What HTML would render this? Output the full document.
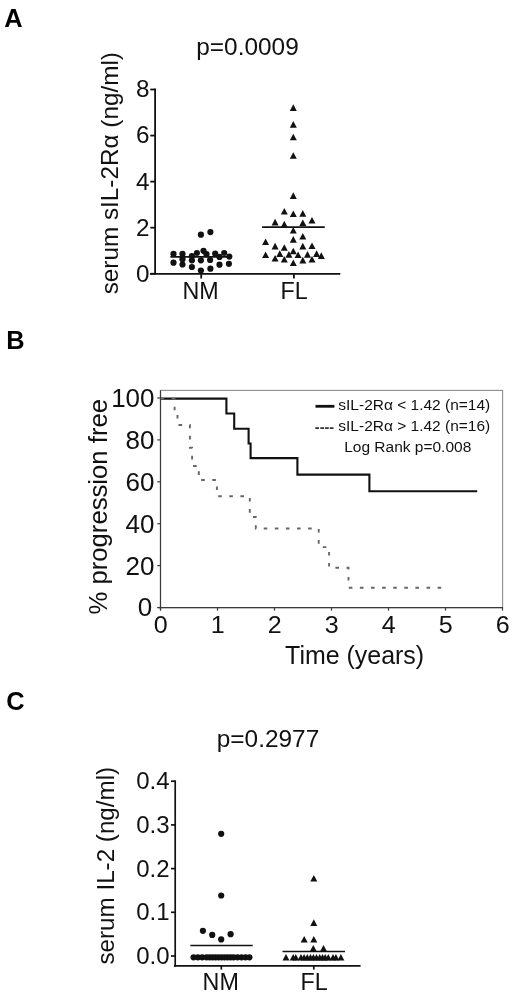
<!DOCTYPE html>
<html lang="en">
<head>
<meta charset="utf-8">
<title>Figure: serum sIL-2R&#945; and IL-2 in FL</title>
<style>
html,body{margin:0;padding:0;background:#fff;}
body{width:520px;height:1005px;overflow:hidden;}
svg{display:block;font-family:'Liberation Sans', sans-serif;}
</style>
</head>
<body>
<svg width="520" height="1005" viewBox="0 0 520 1005" style="font-family:'Liberation Sans', sans-serif">
<rect width="520" height="1005" fill="#fff"/>
<text transform="translate(4.20,26.50) scale(1.0000,1)" font-size="25.4" text-anchor="start" font-weight="bold" fill="#000">A</text>
<text transform="translate(6.30,349.40) scale(1.0000,1)" font-size="25.4" text-anchor="start" font-weight="bold" fill="#000">B</text>
<text transform="translate(6.30,710.20) scale(1.0000,1)" font-size="25.4" text-anchor="start" font-weight="bold" fill="#000">C</text>
<text transform="translate(247.50,55.20) scale(1.0300,1)" font-size="23.7" text-anchor="middle" font-weight="normal" fill="#111">p=0.0009</text>
<text transform="translate(117.60,173.20) rotate(-90) scale(1.0000,1)" font-size="24.3" text-anchor="middle" font-weight="normal" fill="#111">serum sIL-2R&#945; (ng/ml)</text>
<g stroke="#111" stroke-width="1.8" fill="none">
<path d="M155.1,88.4V274.6"/>
<path d="M150,273.8H340.3"/>
<path d="M150.3,273.75H155.1"/>
<path d="M150.3,227.69H155.1"/>
<path d="M150.3,181.63H155.1"/>
<path d="M150.3,135.57H155.1"/>
<path d="M150.3,89.51H155.1"/>
<path d="M201.2,273.8V278.5"/>
<path d="M293.9,273.8V278.5"/>
</g>
<text transform="translate(149.60,281.65) scale(1.0300,1)" font-size="23.6" text-anchor="end" font-weight="normal" fill="#111">0</text>
<text transform="translate(149.60,235.59) scale(1.0300,1)" font-size="23.6" text-anchor="end" font-weight="normal" fill="#111">2</text>
<text transform="translate(149.60,189.53) scale(1.0300,1)" font-size="23.6" text-anchor="end" font-weight="normal" fill="#111">4</text>
<text transform="translate(149.60,143.47) scale(1.0300,1)" font-size="23.6" text-anchor="end" font-weight="normal" fill="#111">6</text>
<text transform="translate(149.60,97.41) scale(1.0300,1)" font-size="23.6" text-anchor="end" font-weight="normal" fill="#111">8</text>
<text transform="translate(200.50,298.60) scale(1.0000,1)" font-size="23.3" text-anchor="middle" font-weight="normal" fill="#111">NM</text>
<text transform="translate(294.20,298.60) scale(1.0000,1)" font-size="23.3" text-anchor="middle" font-weight="normal" fill="#111">FL</text>
<g fill="#111">
<circle cx="200.90" cy="234.70" r="3.1"/>
<circle cx="210.40" cy="232.10" r="3.1"/>
<circle cx="173.50" cy="253.90" r="3.1"/>
<circle cx="182.50" cy="253.90" r="3.1"/>
<circle cx="196.90" cy="253.00" r="3.1"/>
<circle cx="203.50" cy="250.80" r="3.1"/>
<circle cx="206.50" cy="254.20" r="3.1"/>
<circle cx="215.20" cy="253.70" r="3.1"/>
<circle cx="224.20" cy="253.00" r="3.1"/>
<circle cx="229.30" cy="256.60" r="3.1"/>
<circle cx="191.90" cy="256.00" r="3.1"/>
<circle cx="219.50" cy="256.90" r="3.1"/>
<circle cx="182.50" cy="259.20" r="3.1"/>
<circle cx="173.50" cy="262.70" r="3.1"/>
<circle cx="182.50" cy="264.50" r="3.1"/>
<circle cx="191.90" cy="260.30" r="3.1"/>
<circle cx="200.90" cy="260.30" r="3.1"/>
<circle cx="210.10" cy="260.00" r="3.1"/>
<circle cx="219.50" cy="264.70" r="3.1"/>
<circle cx="228.90" cy="263.80" r="3.1"/>
<circle cx="191.90" cy="267.00" r="3.1"/>
<circle cx="210.40" cy="268.70" r="3.1"/>
<circle cx="200.90" cy="270.50" r="3.1"/>
</g>
<path d="M170.4,256.9H231.6" stroke="#111" stroke-width="1.6"/>
<g fill="#111">
<path d="M289.80,110.90L296.80,110.90L293.30,104.30Z"/>
<path d="M289.80,127.70L296.80,127.70L293.30,121.10Z"/>
<path d="M289.80,140.30L296.80,140.30L293.30,133.70Z"/>
<path d="M289.80,158.80L296.80,158.80L293.30,152.20Z"/>
<path d="M289.80,198.90L296.80,198.90L293.30,192.30Z"/>
<path d="M280.80,214.50L287.80,214.50L284.30,207.90Z"/>
<path d="M289.80,217.00L296.80,217.00L293.30,210.40Z"/>
<path d="M299.30,216.70L306.30,216.70L302.80,210.10Z"/>
<path d="M271.60,225.40L278.60,225.40L275.10,218.80Z"/>
<path d="M308.50,223.60L315.50,223.60L312.00,217.00Z"/>
<path d="M280.80,227.40L287.80,227.40L284.30,220.80Z"/>
<path d="M299.30,226.00L306.30,226.00L302.80,219.40Z"/>
<path d="M289.80,233.50L296.80,233.50L293.30,226.90Z"/>
<path d="M299.30,239.50L306.30,239.50L302.80,232.90Z"/>
<path d="M289.80,242.70L296.80,242.70L293.30,236.10Z"/>
<path d="M262.10,245.10L269.10,245.10L265.60,238.50Z"/>
<path d="M271.60,249.40L278.60,249.40L275.10,242.80Z"/>
<path d="M280.80,250.80L287.80,250.80L284.30,244.20Z"/>
<path d="M299.30,249.40L306.30,249.40L302.80,242.80Z"/>
<path d="M308.50,249.10L315.50,249.10L312.00,242.50Z"/>
<path d="M289.80,254.30L296.80,254.30L293.30,247.70Z"/>
<path d="M276.30,256.90L283.30,256.90L279.80,250.30Z"/>
<path d="M285.40,257.70L292.40,257.70L288.90,251.10Z"/>
<path d="M294.60,258.10L301.60,258.10L298.10,251.50Z"/>
<path d="M304.00,257.70L311.00,257.70L307.50,251.10Z"/>
<path d="M313.10,256.90L320.10,256.90L316.60,250.30Z"/>
<path d="M262.10,258.10L269.10,258.10L265.60,251.50Z"/>
<path d="M317.80,258.90L324.80,258.90L321.30,252.30Z"/>
<path d="M271.60,261.50L278.60,261.50L275.10,254.90Z"/>
<path d="M280.80,262.60L287.80,262.60L284.30,256.00Z"/>
<path d="M299.30,263.40L306.30,263.40L302.80,256.80Z"/>
<path d="M308.50,262.60L315.50,262.60L312.00,256.00Z"/>
<path d="M289.80,266.00L296.80,266.00L293.30,259.40Z"/>
</g>
<path d="M262.1,227.1H324.8" stroke="#111" stroke-width="1.6"/>
<rect x="160.5" y="390.4" width="342.1" height="217.2" fill="none" stroke="#8c8c8c" stroke-width="1.1"/>
<g stroke="#3a3a3a" stroke-width="1.2" fill="none">
<path d="M160.5,390.4V610.3"/>
<path d="M157.5,607.6H503"/>
<path d="M157.3,607.50H160.5"/>
<path d="M157.3,565.60H160.5"/>
<path d="M157.3,523.70H160.5"/>
<path d="M157.3,481.80H160.5"/>
<path d="M157.3,439.90H160.5"/>
<path d="M157.3,398.00H160.5"/>
<path d="M160.50,607.6V610.6"/>
<path d="M217.50,607.6V610.6"/>
<path d="M274.50,607.6V610.6"/>
<path d="M331.50,607.6V610.6"/>
<path d="M388.50,607.6V610.6"/>
<path d="M445.50,607.6V610.6"/>
<path d="M502.50,607.6V610.6"/>
</g>
<text transform="translate(152.20,616.40) scale(1.0400,1)" font-size="25.0" text-anchor="end" font-weight="normal" fill="#111">0</text>
<text transform="translate(154.50,574.50) scale(1.0400,1)" font-size="25.0" text-anchor="end" font-weight="normal" fill="#111">20</text>
<text transform="translate(154.50,532.60) scale(1.0400,1)" font-size="25.0" text-anchor="end" font-weight="normal" fill="#111">40</text>
<text transform="translate(154.50,490.70) scale(1.0400,1)" font-size="25.0" text-anchor="end" font-weight="normal" fill="#111">60</text>
<text transform="translate(154.50,448.80) scale(1.0400,1)" font-size="25.0" text-anchor="end" font-weight="normal" fill="#111">80</text>
<text transform="translate(154.50,406.90) scale(1.0400,1)" font-size="25.0" text-anchor="end" font-weight="normal" fill="#111">100</text>
<text transform="translate(160.60,633.20) scale(1.0200,1)" font-size="24.6" text-anchor="middle" font-weight="normal" fill="#111">0</text>
<text transform="translate(217.60,633.20) scale(1.0200,1)" font-size="24.6" text-anchor="middle" font-weight="normal" fill="#111">1</text>
<text transform="translate(274.60,633.20) scale(1.0200,1)" font-size="24.6" text-anchor="middle" font-weight="normal" fill="#111">2</text>
<text transform="translate(331.60,633.20) scale(1.0200,1)" font-size="24.6" text-anchor="middle" font-weight="normal" fill="#111">3</text>
<text transform="translate(388.60,633.20) scale(1.0200,1)" font-size="24.6" text-anchor="middle" font-weight="normal" fill="#111">4</text>
<text transform="translate(445.60,633.20) scale(1.0200,1)" font-size="24.6" text-anchor="middle" font-weight="normal" fill="#111">5</text>
<text transform="translate(502.60,633.20) scale(1.0200,1)" font-size="24.6" text-anchor="middle" font-weight="normal" fill="#111">6</text>
<text transform="translate(354.60,664.30) scale(0.9900,1)" font-size="25.2" text-anchor="middle" font-weight="normal" fill="#111">Time (years)</text>
<text transform="translate(107.40,506.75) rotate(-90) scale(1.0000,1)" font-size="25.7" text-anchor="middle" font-weight="normal" fill="#111">% progression free</text>
<path d="M160.5,398.6H226.4V413.5H234.2V428.8H248.6V443.5H250.6V458.1H297.4V474.6H369.4V491.2H477.2" fill="none" stroke="#111" stroke-width="2.1"/>
<path d="M160.5,398.6H174.6V414H177.5V425H189.9V447.7H192.1V466H198.8V480H216.9V496.3H249.8V517H255.8V528.5H318.7V547.1H329.1V567.8H348.5V587.7H448.3" fill="none" stroke="#666" stroke-width="1.9" stroke-dasharray="3.6,7.5"/>
<path d="M315.5,406.3H334.4" stroke="#111" stroke-width="2.8"/>
<text transform="translate(338.30,410.20) scale(1.0200,1)" font-size="15.2" text-anchor="start" font-weight="normal" fill="#111">sIL-2R&#945; &lt; 1.42 (n=14)</text>
<text transform="translate(314.80,432.30) scale(1.0000,1)" font-size="14.5" text-anchor="start" font-weight="bold" fill="#333">----</text>
<text transform="translate(338.30,431.30) scale(1.0200,1)" font-size="15.2" text-anchor="start" font-weight="normal" fill="#111">sIL-2R&#945; &gt; 1.42 (n=16)</text>
<text transform="translate(344.20,452.00) scale(1.0200,1)" font-size="15.2" text-anchor="start" font-weight="normal" fill="#111">Log Rank p=0.008</text>
<text transform="translate(268.00,747.30) scale(1.0300,1)" font-size="23.7" text-anchor="middle" font-weight="normal" fill="#111">p=0.2977</text>
<text transform="translate(114.00,865.70) rotate(-90) scale(1.0000,1)" font-size="24.2" text-anchor="middle" font-weight="normal" fill="#111">serum IL-2 (ng/ml)</text>
<g stroke="#111" stroke-width="1.7" fill="none">
<path d="M175.2,780.4V966.6"/>
<path d="M173.9,965.8H360.6"/>
<path d="M171,956.00H175.2"/>
<path d="M171,912.30H175.2"/>
<path d="M171,868.60H175.2"/>
<path d="M171,824.90H175.2"/>
<path d="M171,781.20H175.2"/>
<path d="M221.3,965.8V969.6"/>
<path d="M313.8,965.8V969.6"/>
</g>
<text transform="translate(169.60,964.00) scale(1.0000,1)" font-size="24.0" text-anchor="end" font-weight="normal" fill="#111">0.0</text>
<text transform="translate(169.60,920.30) scale(1.0000,1)" font-size="24.0" text-anchor="end" font-weight="normal" fill="#111">0.1</text>
<text transform="translate(169.60,876.60) scale(1.0000,1)" font-size="24.0" text-anchor="end" font-weight="normal" fill="#111">0.2</text>
<text transform="translate(169.60,832.90) scale(1.0000,1)" font-size="24.0" text-anchor="end" font-weight="normal" fill="#111">0.3</text>
<text transform="translate(169.60,789.20) scale(1.0000,1)" font-size="24.0" text-anchor="end" font-weight="normal" fill="#111">0.4</text>
<text transform="translate(220.70,990.40) scale(1.0000,1)" font-size="23.3" text-anchor="middle" font-weight="normal" fill="#111">NM</text>
<text transform="translate(314.00,990.40) scale(1.0000,1)" font-size="23.3" text-anchor="middle" font-weight="normal" fill="#111">FL</text>
<g fill="#111">
<circle cx="221.20" cy="833.80" r="3.1"/>
<circle cx="221.20" cy="895.50" r="3.1"/>
<circle cx="202.90" cy="930.80" r="3.1"/>
<circle cx="212.20" cy="934.90" r="3.1"/>
<circle cx="221.20" cy="939.40" r="3.1"/>
<circle cx="230.60" cy="934.20" r="3.1"/>
<circle cx="193.60" cy="957.30" r="3.1"/>
<circle cx="197.90" cy="957.30" r="3.1"/>
<circle cx="202.20" cy="957.30" r="3.1"/>
<circle cx="206.50" cy="957.30" r="3.1"/>
<circle cx="209.60" cy="957.30" r="3.1"/>
<circle cx="212.60" cy="957.30" r="3.1"/>
<circle cx="215.60" cy="957.30" r="3.1"/>
<circle cx="218.60" cy="957.30" r="3.1"/>
<circle cx="221.60" cy="957.30" r="3.1"/>
<circle cx="224.60" cy="957.30" r="3.1"/>
<circle cx="227.60" cy="957.30" r="3.1"/>
<circle cx="230.60" cy="957.30" r="3.1"/>
<circle cx="233.60" cy="957.30" r="3.1"/>
<circle cx="237.50" cy="957.30" r="3.1"/>
<circle cx="241.50" cy="957.30" r="3.1"/>
<circle cx="245.50" cy="957.30" r="3.1"/>
<circle cx="249.40" cy="957.30" r="3.1"/>
<path d="M310.30,881.50L317.30,881.50L313.80,874.90Z"/>
<path d="M310.30,925.90L317.30,925.90L313.80,919.30Z"/>
<path d="M300.70,942.50L307.70,942.50L304.20,935.90Z"/>
<path d="M310.30,942.50L317.30,942.50L313.80,935.90Z"/>
<path d="M309.80,951.60L316.80,951.60L313.30,945.00Z"/>
<path d="M320.00,951.60L327.00,951.60L323.50,945.00Z"/>
<path d="M282.50,960.50L289.50,960.50L286.00,953.90Z"/>
<path d="M289.70,960.50L296.70,960.50L293.20,953.90Z"/>
<path d="M292.30,960.50L299.30,960.50L295.80,953.90Z"/>
<path d="M297.50,960.50L304.50,960.50L301.00,953.90Z"/>
<path d="M300.60,960.50L307.60,960.50L304.10,953.90Z"/>
<path d="M303.80,960.50L310.80,960.50L307.30,953.90Z"/>
<path d="M307.00,960.50L314.00,960.50L310.50,953.90Z"/>
<path d="M309.90,960.50L316.90,960.50L313.40,953.90Z"/>
<path d="M313.00,960.50L320.00,960.50L316.50,953.90Z"/>
<path d="M316.20,960.50L323.20,960.50L319.70,953.90Z"/>
<path d="M319.00,960.50L326.00,960.50L322.50,953.90Z"/>
<path d="M321.70,960.50L328.70,960.50L325.20,953.90Z"/>
<path d="M324.80,960.50L331.80,960.50L328.30,953.90Z"/>
<path d="M329.50,960.50L336.50,960.50L333.00,953.90Z"/>
<path d="M332.40,960.50L339.40,960.50L335.90,953.90Z"/>
<path d="M337.40,960.50L344.40,960.50L340.90,953.90Z"/>
</g>
<path d="M190.4,945.4H252.7" stroke="#111" stroke-width="1.5"/>
<path d="M282.5,951.5H345" stroke="#111" stroke-width="1.5"/>
</svg>
</body>
</html>
